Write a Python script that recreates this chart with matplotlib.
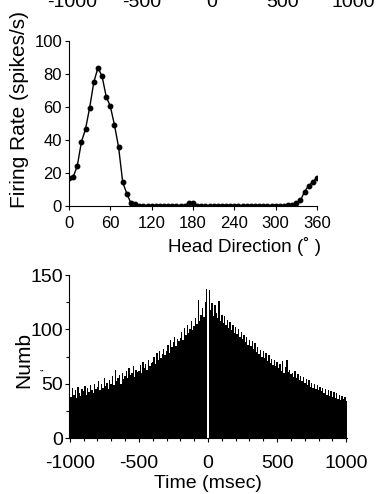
import numpy as np
import matplotlib
matplotlib.use('Agg')
import matplotlib.pyplot as plt

plt.rcParams['font.family'] = ['Liberation Sans', 'DejaVu Sans']
plt.rcParams['axes.unicode_minus'] = False

# Head direction tuning curve (6 deg bins)
hd_angles = list(range(0, 361, 6))
hd_rates = [16.8, 17.6, 24.2, 38.8, 46.7, 59.6, 75.0, 83.8, 78.6, 66.3,
            60.4, 49.1, 35.6, 14.3, 7.5, 1.6, 1.4, 0.3, 0.3, 0.3,
            0.3, 0.3, 0.3, 0.3, 0.3, 0.3, 0.3, 0.3, 0.3, 1.8,
            2.0, 0.3, 0.3, 0.3, 0.3, 0.3, 0.3, 0.3, 0.3, 0.3,
            0.3, 0.3, 0.3, 0.3, 0.3, 0.3, 0.3, 0.3, 0.3, 0.3,
            0.3, 0.3, 0.3, 0.8, 0.8, 1.6, 3.4, 8.7, 12.3, 14.7,
            17.2]

# Autocorrelogram (10 ms bins, centres -1000..1000)
lags = list(range(-1000, 1001, 10))
counts = [42, 38, 46, 40, 44, 37, 47, 41, 39, 45,
          43, 48, 40, 46, 42, 49, 44, 41, 50, 45,
          47, 52, 44, 50, 46, 55, 48, 51, 45, 53,
          50, 57, 49, 63, 52, 55, 58, 50, 60, 54,
          57, 62, 55, 64, 58, 60, 66, 56, 63, 61,
          62, 67, 60, 70, 64, 68, 63, 72, 66, 69,
          70, 75, 68, 78, 72, 80, 74, 77, 82, 76,
          80, 86, 78, 90, 84, 88, 93, 85, 91, 89,
          92, 98, 90, 101, 95, 104, 97, 100, 108, 99,
          103, 110, 105, 127, 108, 113, 120, 111, 125, 137,
          0,
          136, 118, 124, 112, 122, 115, 110, 126, 108, 113,
          106, 112, 104, 109, 101, 107, 99, 104, 97, 102,
          96, 100, 93, 98, 91, 95, 88, 93, 86, 90,
          85, 89, 82, 87, 79, 84, 77, 81, 75, 80,
          74, 78, 71, 76, 69, 73, 67, 72, 66, 70,
          64, 68, 62, 71, 60, 65, 72, 61, 63, 59,
          60, 56, 62, 55, 59, 53, 57, 52, 56, 51,
          54, 49, 53, 47, 51, 46, 50, 45, 49, 44,
          47, 43, 46, 41, 45, 40, 44, 39, 43, 38,
          42, 37, 41, 36, 40, 35, 39, 36, 38, 34]

top_ticks = [-1000, -500, 0, 500, 1000]
top_tick_x = [72, 142, 212, 283, 353]  # pixel centres of cut-off labels

W, H = 380, 494
fig = plt.figure(figsize=(W / 100, H / 100), dpi=100)

# leftover tick labels of the panel above (cut by the top edge)
for t, px in zip(top_ticks, top_tick_x):
    fig.text(px / W, 1 - 7 / H, str(t), ha='center', va='baseline', fontsize=14)

# tuning curve
ax1 = fig.add_axes([69 / W, 1 - 206 / H, 248 / W, 165 / H])
ax1.plot(hd_angles, hd_rates, color='black', lw=1, marker='o', ms=3.2)
ax1.set_xlim(0, 360)
ax1.set_ylim(0, 100)
ax1.set_xticks(range(0, 361, 60))
ax1.set_yticks(range(0, 101, 20))
ax1.spines['top'].set_visible(False)
ax1.spines['right'].set_visible(False)
ax1.tick_params(direction='out', length=3, width=0.8, labelsize=12, pad=2)
ax1.tick_params(axis='x', pad=4)
fig.text(20 / W, 1 - 110 / H, 'Firing Rate (spikes/s)', rotation=90,
         ha='center', va='center', fontsize=15)
fig.text(244 / W, 1 - 246 / H, 'Head Direction (˚ )', ha='center',
         va='center', fontsize=13.5)

# autocorrelogram
ax2 = fig.add_axes([69 / W, 1 - 438 / H, 278 / W, 163 / H])
ax2.bar(lags, counts, width=10, color='black', linewidth=0)
ax2.set_xlim(-1005, 1005)
ax2.set_ylim(0, 150)
ax2.set_xticks(top_ticks)
ax2.set_xticks(range(-1000, 1001, 100), minor=True)
ax2.set_yticks([0, 50, 100, 150])
ax2.set_yticks([25, 75, 125], minor=True)
ax2.spines['top'].set_visible(False)
ax2.spines['right'].set_visible(False)
ax2.tick_params(which='both', direction='out', width=0.8, labelsize=14, pad=1)
ax2.tick_params(which='major', length=3)
ax2.tick_params(which='minor', length=2)
ax2.tick_params(axis='x', pad=9)
fig.text(24 / W, 1 - 360 / H, 'Numb', rotation=90, ha='center', va='center',
         fontsize=15)
fig.text(46 / W, 1 - 370 / H, '\u2018', rotation=90, ha='center', va='center',
         fontsize=9)
fig.text(208 / W, 1 - 483 / H, 'Time (msec)', ha='center', va='center',
         fontsize=14)

fig.savefig('out.png', dpi=100)
